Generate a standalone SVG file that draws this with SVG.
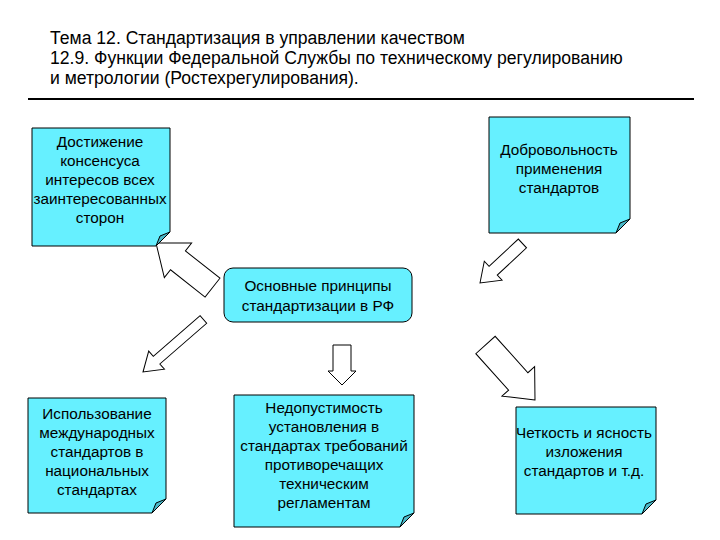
<svg xmlns="http://www.w3.org/2000/svg" width="720" height="540" viewBox="0 0 720 540">
<style>
text{font-family:"Liberation Sans",Arial,sans-serif;fill:#000}
.t{font-size:17.6px}
.n{font-size:15.3px;text-anchor:middle}
.box{fill:#66F0FF;stroke:#000;stroke-width:1}
.fold{fill:#4AB8C8;stroke:#000;stroke-width:1}
.ar{fill:#fff;stroke:#000;stroke-width:1}
</style>
<rect width="720" height="540" fill="#fff"/>
<text class="t" x="50" y="44">Тема 12. Стандартизация в управлении качеством</text>
<text class="t" x="50" y="64">12.9. Функции Федеральной Службы по техническому регулированию</text>
<text class="t" x="50" y="84">и метрологии (Ростехрегулирования).</text>
<line x1="28" y1="99" x2="694" y2="99" stroke="#000" stroke-width="2"/>
<g id="connectors">
<polygon class="ar" transform="translate(156,243) rotate(38.3)" points="0,0 28,-22 28,-12 72,-12 72,12 28,12 28,22"/>
<polygon class="ar" transform="translate(480,283) rotate(-43)" points="0,0 18,-13 18,-6 58,-6 58,6 18,6 18,13"/>
<polygon class="ar" transform="translate(143,372) rotate(-41)" points="0,0 18,-12 18,-5 80,-5 80,5 18,5 18,12"/>
<polygon class="ar" transform="translate(342,385) rotate(-90)" points="0,0 14,-14 14,-9 40,-9 40,9 14,9 14,14"/>
<polygon class="ar" transform="translate(535,400) rotate(-132)" points="0,0 25,-22 25,-13 74,-13 74,13 25,13 25,22"/>
</g>
<g id="n1">
<path class="box" d="M32,128H170V232L156,246H32Z"/><path class="fold" d="M170,232L156,246L160,236Z"/>
<text class="n" x="100" y="147">Достижение</text><text class="n" x="100" y="166">консенсуса</text><text class="n" x="100" y="185">интересов всех</text><text class="n" x="100" y="204">заинтересованных</text><text class="n" x="100" y="223">сторон</text>
</g>
<g id="n2">
<path class="box" d="M489,117H630V219L616,233H489Z"/><path class="fold" d="M630,219L616,233L620,223Z"/>
<text class="n" x="559" y="155">Добровольность</text><text class="n" x="559" y="174">применения</text><text class="n" x="559" y="193">стандартов</text>
</g>
<g id="n3">
<rect class="box" x="224" y="268" width="188" height="54" rx="9"/>
<text class="n" x="318" y="291">Основные принципы</text><text class="n" x="318" y="311">стандартизации в РФ</text>
</g>
<g id="n4">
<path class="box" d="M28,398H166V499L152,513H28Z"/><path class="fold" d="M166,499L152,513L156,503Z"/>
<text class="n" x="97" y="419">Использование</text><text class="n" x="97" y="438">международных</text><text class="n" x="97" y="457">стандартов в</text><text class="n" x="97" y="476">национальных</text><text class="n" x="97" y="495">стандартах</text>
</g>
<g id="n5">
<path class="box" d="M234,395H414V513L400,527H234Z"/><path class="fold" d="M414,513L400,527L404,517Z"/>
<text class="n" x="324" y="413">Недопустимость</text><text class="n" x="324" y="432">установления в</text><text class="n" x="324" y="451">стандартах требований</text><text class="n" x="324" y="470">противоречащих</text><text class="n" x="324" y="489">техническим</text><text class="n" x="324" y="508">регламентам</text>
</g>
<g id="n6">
<path class="box" d="M516,407H656V500L642,514H516Z"/><path class="fold" d="M656,500L642,514L646,504Z"/>
<text class="n" x="584" y="438">Четкость и ясность</text><text class="n" x="584" y="457">изложения</text><text class="n" x="584" y="476">стандартов и т.д.</text>
</g>
</svg>
